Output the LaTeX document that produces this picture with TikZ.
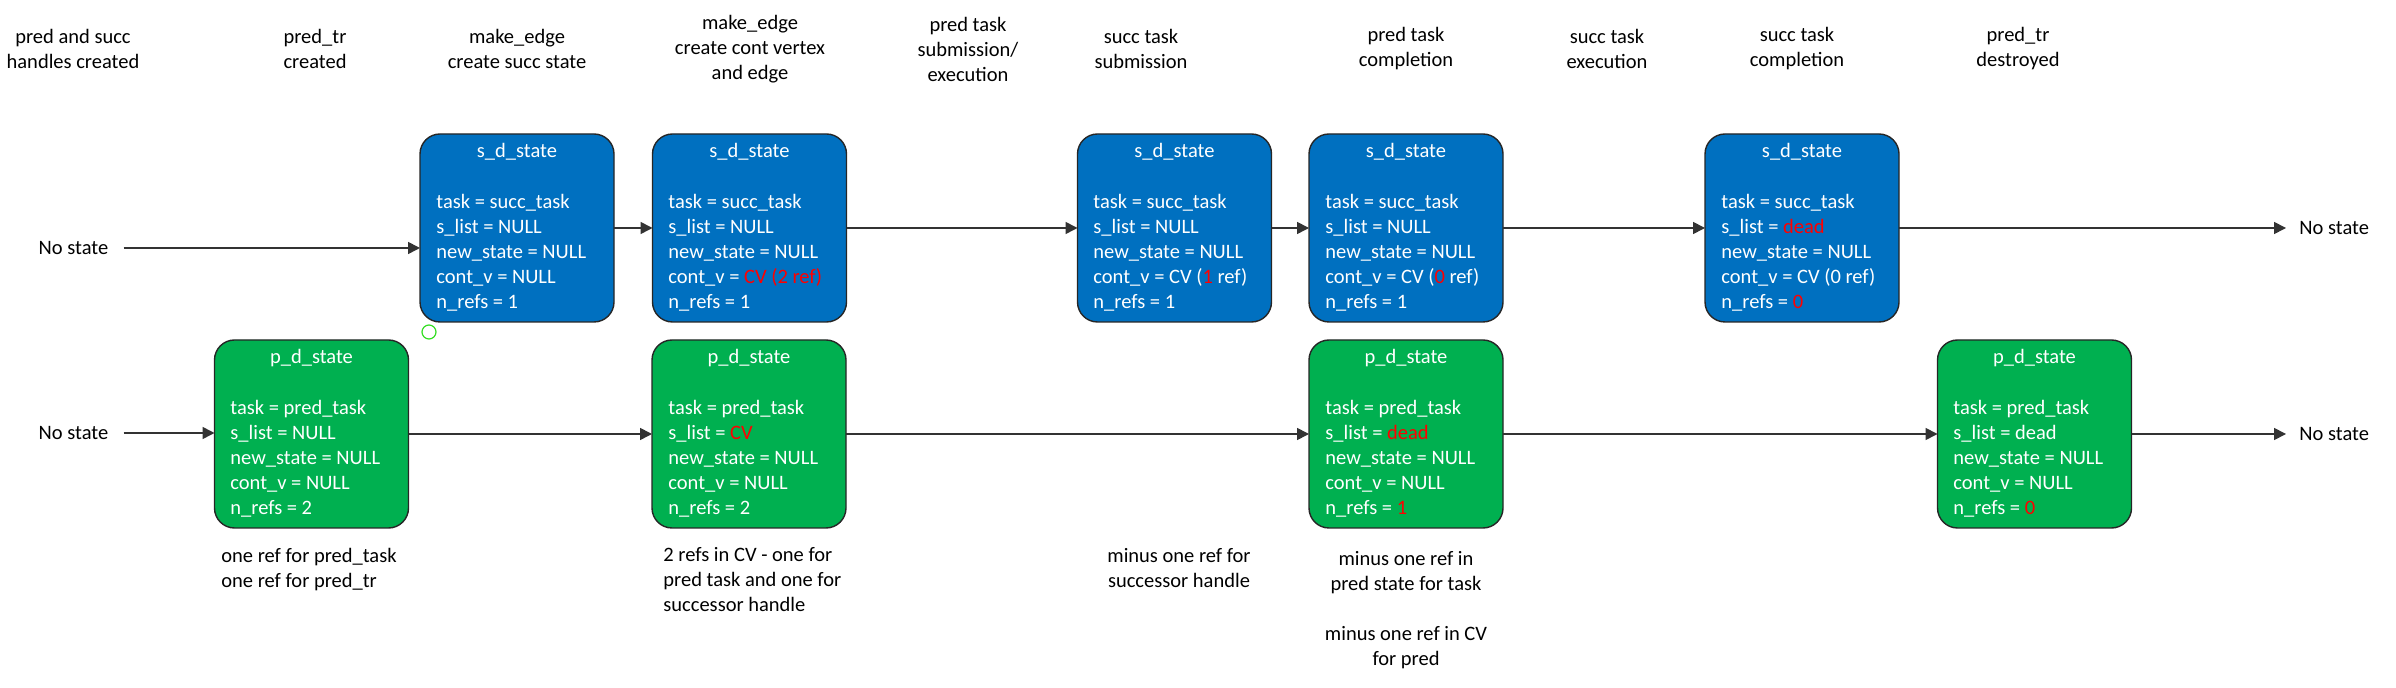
\documentclass[tikz,border=0pt]{standalone}
\usepackage{fontspec}
\setmainfont{Carlito}
\usetikzlibrary{arrows.meta}
\definecolor{sblue}{HTML}{0070C0}
\definecolor{pgreen}{HTML}{00B050}
\definecolor{hl}{HTML}{FF0000}
\definecolor{ringgreen}{HTML}{33DD22}
\newcommand{\hlt}[1]{\textcolor{hl}{#1}}
\begin{document}
\begin{tikzpicture}[x=0.5pt,y=-0.5pt,
  every node/.style={font=\fontsize{10.25pt}{12.5pt}\selectfont},
  statebox/.style={draw=black!85, line width=0.7pt, rounded corners=10pt, minimum width=97pt, minimum height=94pt, inner sep=0pt, outer sep=0pt},
  sd/.style={statebox, fill=sblue},
  pd/.style={statebox, fill=pgreen},
  boxtitle/.style={text=white, anchor=base, inner sep=0pt},
  boxbody/.style={text=white, anchor=north west, align=left, inner sep=0pt},
  header/.style={align=center, inner sep=0pt},
  note/.style={inner sep=0pt},
  nostate/.style={inner sep=0pt},
  flow/.style={draw=black!80, line width=0.8pt, -{Triangle[length=6pt,width=6pt]}},
]
\useasboundingbox (0,0) rectangle (2396,688);

% headers
\node[header] (h1) at (73,49) {pred and succ\\handles created};
\node[header] (h2) at (315,49) {pred\_tr\\created};
\node[header] (h3) at (517,49) {make\_edge\\create succ state};
\node[header] (h4) at (750,49) {make\_edge\\create cont vertex\\and edge};
\node[header] (h5) at (968,49) {pred task\\submission/\\execution};
\node[header] (h6) at (1141,49) {succ task\\submission};
\node[header] (h7) at (1406,49) {pred task\\completion};
\node[header] (h8) at (1607,49) {succ task\\execution};
\node[header] (h9) at (1797,49) {succ task\\completion};
\node[header] (h10) at (2018,49) {pred\_tr\\destroyed};

% succ row
\node[sd] (s1) at (517,228) {};
\node[boxtitle] (s1t) at (517,158) {s\_d\_state};
\node[boxbody] (s1b) at (436,194) {task = succ\_task\\s\_list = NULL\\new\_state = NULL\\cont\_v = NULL\\n\_refs = 1};

\node[sd] (s2) at (749.5,228) {};
\node[boxtitle] (s2t) at (749.5,158) {s\_d\_state};
\node[boxbody] (s2b) at (668,194) {task = succ\_task\\s\_list = NULL\\new\_state = NULL\\cont\_v = \hlt{CV (2 ref)}\\n\_refs = 1};

\node[sd] (s3) at (1174.5,228) {};
\node[boxtitle] (s3t) at (1174.5,158) {s\_d\_state};
\node[boxbody] (s3b) at (1093,194) {task = succ\_task\\s\_list = NULL\\new\_state = NULL\\cont\_v = CV (\hlt{1} ref)\\n\_refs = 1};

\node[sd] (s4) at (1406,228) {};
\node[boxtitle] (s4t) at (1406,158) {s\_d\_state};
\node[boxbody] (s4b) at (1325,194) {task = succ\_task\\s\_list = NULL\\new\_state = NULL\\cont\_v = CV (\hlt{0} ref)\\n\_refs = 1};

\node[sd] (s5) at (1802,228) {};
\node[boxtitle] (s5t) at (1802,158) {s\_d\_state};
\node[boxbody] (s5b) at (1721,194) {task = succ\_task\\s\_list = \hlt{dead}\\new\_state = NULL\\cont\_v = CV (0 ref)\\n\_refs = \hlt{0}};

% pred row
\node[pd] (p1) at (311.5,434) {};
\node[boxtitle] (p1t) at (311.5,364) {p\_d\_state};
\node[boxbody] (p1b) at (230,400) {task = pred\_task\\s\_list = NULL\\new\_state = NULL\\cont\_v = NULL\\n\_refs = 2};

\node[pd] (p2) at (749,434) {};
\node[boxtitle] (p2t) at (749,364) {p\_d\_state};
\node[boxbody] (p2b) at (668,400) {task = pred\_task\\s\_list = \hlt{CV}\\new\_state = NULL\\cont\_v = NULL\\n\_refs = 2};

\node[pd] (p3) at (1406,434) {};
\node[boxtitle] (p3t) at (1406,364) {p\_d\_state};
\node[boxbody] (p3b) at (1325,400) {task = pred\_task\\s\_list = \hlt{dead}\\new\_state = NULL\\cont\_v = NULL\\n\_refs = \hlt{1}};

\node[pd] (p4) at (2034.5,434) {};
\node[boxtitle] (p4t) at (2034.5,364) {p\_d\_state};
\node[boxbody] (p4b) at (1953,400) {task = pred\_task\\s\_list = dead\\new\_state = NULL\\cont\_v = NULL\\n\_refs = \hlt{0}};

% small ring
\node[circle, draw=ringgreen, line width=0.6pt, minimum size=7pt, inner sep=0pt] (ring) at (429,332) {};

% no state labels
\node[nostate] (ns1) at (73.5,248) {No state};
\node[nostate] (ns2) at (73.5,433) {No state};
\node[nostate, anchor=west] (ns3) at (2299,228) {No state};
\node[nostate, anchor=west] (ns4) at (2299,434) {No state};

% connectors
\draw[flow, shorten <=7.5pt] (ns1.east) -- (s1.west |- ns1.east);
\draw[flow] (s1) -- (s2);
\draw[flow] (s2) -- (s3);
\draw[flow] (s3) -- (s4);
\draw[flow] (s4) -- (s5);
\draw[flow, shorten >=6.5pt] (s5) -- (ns3.west);

\draw[flow, shorten <=7.5pt] (ns2.east) -- (p1.west |- ns2.east);
\draw[flow] (p1) -- (p2);
\draw[flow] (p2) -- (p3);
\draw[flow] (p3) -- (p4);
\draw[flow, shorten >=6.5pt] (p4) -- (ns4.west);

% notes
\node[note, anchor=west, align=left] (n1) at (221,570) {one ref for pred\_task\\one ref for pred\_tr};
\node[note, anchor=west, align=left] (n2) at (663,580) {2 refs in CV - one for\\pred task and one for\\successor handle};
\node[note, align=center] (n3) at (1179,568) {minus one ref for\\successor handle};
\node[note, align=center] (n4) at (1406,610) {minus one ref in\\pred state for task\\[12.5pt]minus one ref in CV\\for pred};
\end{tikzpicture}
\end{document}
